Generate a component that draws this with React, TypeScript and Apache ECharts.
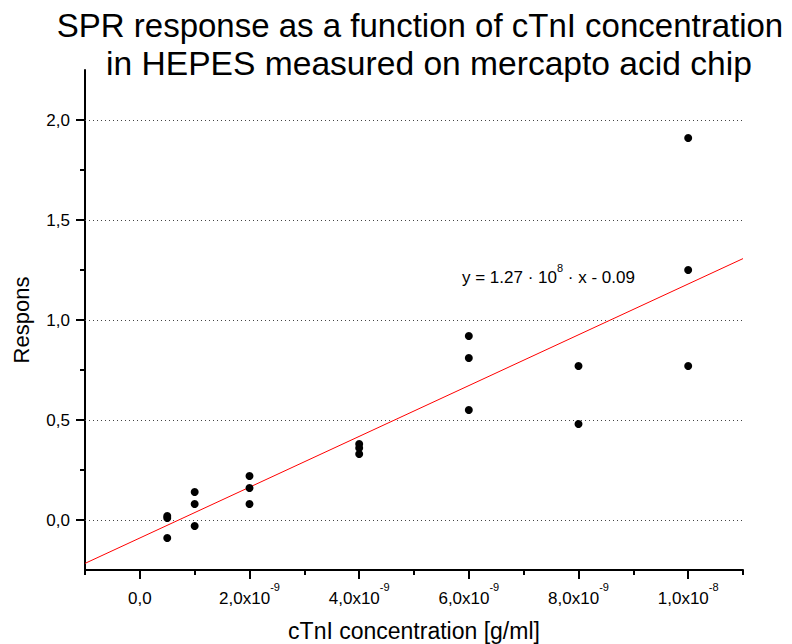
import React, { useEffect, useRef } from "react";
import * as echarts from "echarts";

// Concentrations of cTnI [g/ml] and measured SPR responses
const concentrations = [
  0.5e-9, 0.5e-9, 0.5e-9,
  1e-9, 1e-9, 1e-9,
  2e-9, 2e-9, 2e-9,
  4e-9, 4e-9, 4e-9,
  6e-9, 6e-9, 6e-9,
  8e-9, 8e-9,
  1e-8, 1e-8, 1e-8,
];
const responses = [
  0.02, 0.01, -0.09,
  0.14, 0.08, -0.03,
  0.22, 0.16, 0.08,
  0.38, 0.36, 0.33,
  0.92, 0.81, 0.55,
  0.77, 0.48,
  1.91, 1.25, 0.77,
];

// Linear fit y = slope * x + intercept
const fitSlope = 1.27e8;
const fitIntercept = -0.09;
const fitRange = [-1e-9, 1.1e-8];

// Axis ticks (x in units of 1e-9 g/ml)
const xMajorTicks = [0, 2, 4, 6, 8, 10];
const xMinorTicks = [-1, 1, 3, 5, 7, 9, 11];
const yMajorTicks = [0, 0.5, 1.0, 1.5, 2.0];
const yMinorTicks = [0.25, 0.75, 1.25, 1.75];

const titleLines = [
  "SPR response as a function of cTnI concentration",
  "in HEPES measured on mercapto acid chip",
];

const FONT = "'Liberation Sans', Arial, Helvetica, sans-serif";
const SCALE = 1e9;

function xLabel(v: number): string {
  if (Math.abs(v) < 1e-9) return "{main|0,0}";
  const real = v / SCALE;
  const exp = Math.floor(Math.log10(Math.abs(real)) + 1e-9);
  const mant = real / Math.pow(10, exp);
  return `{main|${mant.toFixed(1).replace(".", ",")}x10}{sup|${exp}}`;
}

export default function App() {
  const ref = useRef<HTMLDivElement>(null);

  useEffect(() => {
    if (!ref.current) return;
    const chart = echarts.init(ref.current, null, { renderer: "svg" });

    const points = concentrations.map((c, i) => [c * SCALE, responses[i]]);
    const fitLine = fitRange.map((x) => [x * SCALE, fitSlope * x + fitIntercept]);

    const axisLineStyle = { color: "#000", width: 2 };

    chart.setOption({
      animation: false,
      backgroundColor: "#fff",
      grid: {
        left: 85,
        right: 49,
        top: 70,
        bottom: 74,
        containLabel: false,
        outerBoundsMode: "none",
      },
      xAxis: [
        {
          type: "value",
          min: -1,
          max: 11,
          position: "bottom",
          name: "cTnI concentration [g/ml]",
          nameLocation: "middle",
          nameGap: 49,
          nameTextStyle: { fontSize: 23, fontFamily: FONT, color: "#000" },
          axisLine: { show: true, onZero: false, lineStyle: axisLineStyle },
          axisTick: {
            show: true,
            inside: false,
            length: 9,
            customValues: xMajorTicks,
            lineStyle: { color: "#000", width: 2 },
          },
          axisLabel: {
            show: true,
            margin: 11,
            customValues: xMajorTicks,
            formatter: (v: number) => xLabel(v),
            color: "#000",
            fontSize: 17,
            fontFamily: FONT,
            rich: {
              main: { fontSize: 17, fontFamily: FONT, color: "#000", lineHeight: 26, verticalAlign: "bottom" },
              sup: { fontSize: 11, fontFamily: FONT, color: "#000", lineHeight: 22, verticalAlign: "top" },
            },
          },
          splitLine: { show: false },
        },
        {
          type: "value",
          min: -1,
          max: 11,
          position: "bottom",
          gridIndex: 0,
          axisLine: { show: false, onZero: false },
          axisTick: {
            show: true,
            inside: false,
            length: 5,
            customValues: xMinorTicks,
            lineStyle: { color: "#000", width: 2 },
          },
          axisLabel: { show: false },
          splitLine: { show: false },
        },
      ],
      yAxis: [
        {
          type: "value",
          min: -0.25,
          max: 2.25,
          position: "left",
          name: "Respons",
          nameLocation: "middle",
          nameGap: 53,
          nameTextStyle: { fontSize: 22, fontFamily: FONT, color: "#000" },
          axisLine: { show: true, onZero: false, lineStyle: axisLineStyle },
          axisTick: {
            show: true,
            inside: false,
            length: 9,
            customValues: yMajorTicks,
            lineStyle: { color: "#000", width: 2 },
          },
          axisLabel: {
            show: true,
            margin: 15,
            customValues: yMajorTicks,
            formatter: (v: number) => v.toFixed(1).replace(".", ","),
            color: "#000",
            fontSize: 17,
            fontFamily: FONT,
          },
          splitLine: { show: false },
        },
        {
          type: "value",
          min: -0.25,
          max: 2.25,
          position: "left",
          gridIndex: 0,
          axisLine: { show: false, onZero: false },
          axisTick: {
            show: true,
            inside: false,
            length: 5,
            customValues: yMinorTicks,
            lineStyle: { color: "#000", width: 2 },
          },
          axisLabel: { show: false },
          splitLine: { show: false },
        },
      ],
      graphic: [
        {
          type: "text",
          x: 420,
          y: 9,
          style: {
            text: titleLines[0],
            fill: "#000",
            fontSize: 33,
            fontFamily: FONT,
            align: "center",
            verticalAlign: "top",
          },
        },
        {
          type: "text",
          x: 429,
          y: 46,
          style: {
            text: titleLines[1],
            fill: "#000",
            fontSize: 33.6,
            fontFamily: FONT,
            align: "center",
            verticalAlign: "top",
          },
        },
        {
          type: "text",
          x: 462,
          y: 262,
          style: {
            text: "{main|y = 1.27 · 10}{sup|8}{main| · x - 0.09}",
            fill: "#000",
            fontSize: 17,
            fontFamily: FONT,
            align: "left",
            verticalAlign: "top",
            rich: {
              main: { fontSize: 17, fontFamily: FONT, fill: "#000", lineHeight: 24, verticalAlign: "bottom" },
              sup: { fontSize: 11, fontFamily: FONT, fill: "#000", lineHeight: 20, verticalAlign: "top" },
            },
          },
        },
      ],
      series: [
        {
          type: "line",
          xAxisIndex: 0,
          yAxisIndex: 0,
          data: fitLine,
          showSymbol: false,
          symbol: "none",
          lineStyle: { color: "#ff0000", width: 1 },
          z: 3,
          markLine: {
            silent: true,
            symbol: ["none", "none"],
            label: { show: false },
            lineStyle: { color: "#444", width: 1, type: [1, 3] },
            data: yMajorTicks.map((v) => ({ yAxis: v })),
            z: 1,
          },
        },
        {
          type: "scatter",
          xAxisIndex: 0,
          yAxisIndex: 0,
          data: points,
          symbol: "circle",
          symbolSize: 8,
          itemStyle: { color: "#000", opacity: 1 },
          z: 4,
        },
      ],
    });

    return () => chart.dispose();
  }, []);

  return (
    <div
      ref={ref}
      style={{ position: "absolute", left: 0, top: 0, width: 792, height: 644 }}
    />
  );
}
